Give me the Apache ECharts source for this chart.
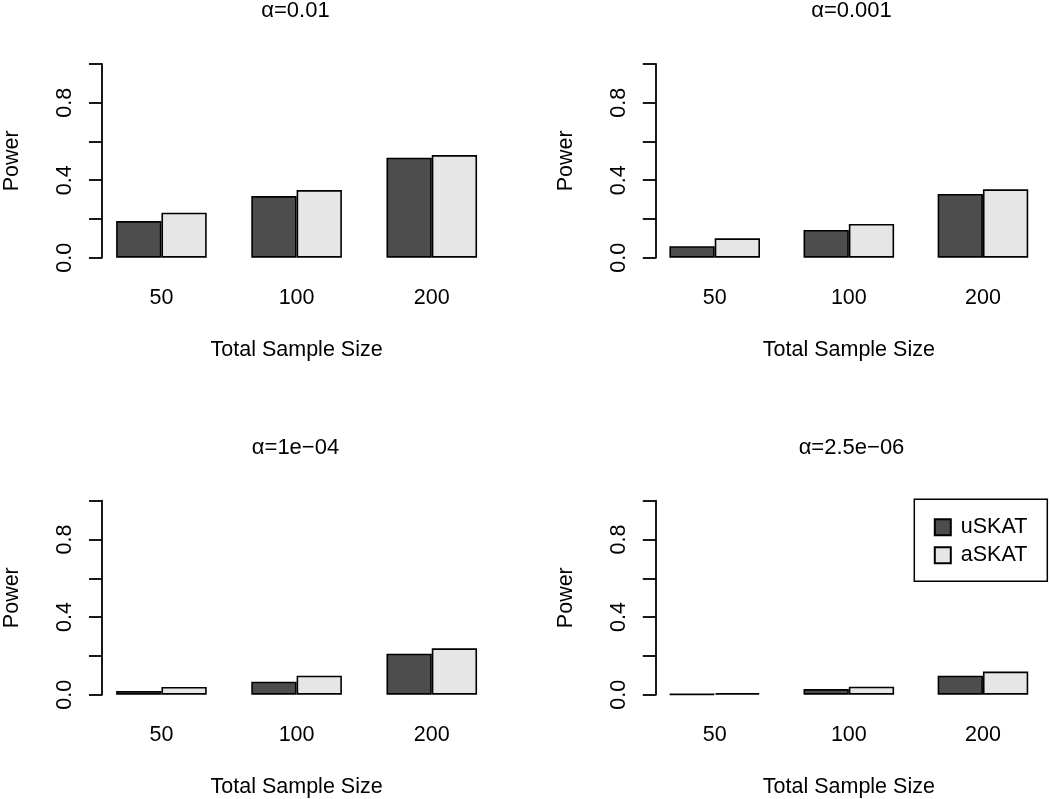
<!DOCTYPE html>
<html>
<head>
<meta charset="utf-8">
<script src="https://cdn.jsdelivr.net/npm/echarts@6/dist/echarts.min.js"></script>
<style>
  html, body { margin: 0; padding: 0; background: #fff; }
  #chart { width: 1050px; height: 799px; }
</style>
</head>
<body>
<div id="chart"></div>
<script>
const categories = ['50', '100', '200'];
const seriesNames = ['uSKAT', 'aSKAT'];
const panelTitles = ['\u03b1=0.01', '\u03b1=0.001', '\u03b1=1e\u221204', '\u03b1=2.5e\u221206'];
const uSKAT_a01 = [0.189, 0.318, 0.516];
const aSKAT_a01 = [0.232, 0.349, 0.530];
const uSKAT_a001 = [0.059, 0.143, 0.329];
const aSKAT_a001 = [0.100, 0.174, 0.353];
const uSKAT_a1e4 = [0.019, 0.067, 0.211];
const aSKAT_a1e4 = [0.040, 0.098, 0.239];
const uSKAT_a25e6 = [0.003, 0.029, 0.098];
const aSKAT_a25e6 = [0.008, 0.041, 0.119];
const yTickValues = [0, 0.2, 0.4, 0.6, 0.8, 1.0];
const yTickLabels = ['0.0', '', '0.4', '', '0.8', ''];
const xAxisTitle = 'Total Sample Size';
const yAxisTitle = 'Power';

const panelData = [
  [uSKAT_a01, aSKAT_a01],
  [uSKAT_a001, aSKAT_a001],
  [uSKAT_a1e4, aSKAT_a1e4],
  [uSKAT_a25e6, aSKAT_a25e6]
];

const FONT = 'Liberation Sans, Arial, sans-serif';
const FS = 21.5;
const colors = ['#4d4d4d', '#e6e6e6'];
const unit = 45.3;
// panel layout: first bar left edge, zero-line y, axis height
const layout = [
  { barLeft: 114.3, zeroY: 257.7, h: 193.7 },
  { barLeft: 670.3, zeroY: 257.7, h: 193.7 },
  { barLeft: 114.3, zeroY: 694.7, h: 194.0 },
  { barLeft: 670.3, zeroY: 694.7, h: 194.0 }
];

const grids = [], xAxes = [], yAxes = [], series = [], titles = [];
layout.forEach((p, i) => {
  const c1 = p.barLeft + unit;
  const gridLeft = c1 - 1.5 * unit;
  const axisX = p.barLeft - 0.32 * unit;
  const top = p.zeroY - p.h;
  grids.push({ left: gridLeft, top: top, width: 9 * unit, height: p.h, containLabel: false });
  xAxes.push({
    type: 'category', gridIndex: i, data: categories,
    axisLine: { show: false }, axisTick: { show: false },
    axisLabel: { margin: 29, color: '#000', fontSize: FS, fontFamily: FONT },
    name: xAxisTitle, nameLocation: 'middle', nameGap: 81,
    nameTextStyle: { color: '#000', fontSize: FS, fontFamily: FONT }
  });
  yAxes.push({
    type: 'value', gridIndex: i, min: 0, max: 1, interval: 0.2,
    offset: -(axisX - gridLeft),
    axisLine: { show: true, lineStyle: { color: '#000', width: 1.8 } },
    axisTick: { show: true, length: 13, lineStyle: { color: '#000', width: 1.8 } },
    splitLine: { show: false },
    axisLabel: {
      rotate: 90, margin: 26, color: '#000', fontSize: FS, fontFamily: FONT,
      formatter: function (v) {
        const k = yTickValues.findIndex(t => Math.abs(t - v) < 1e-9);
        return k >= 0 ? yTickLabels[k] : '';
      }
    },
    name: yAxisTitle, nameLocation: 'middle', nameRotate: 90, nameGap: 79,
    nameTextStyle: { color: '#000', fontSize: FS, fontFamily: FONT }
  });
  panelData[i].forEach((vals, s) => {
    series.push({
      type: 'bar', name: seriesNames[s], xAxisIndex: i, yAxisIndex: i,
      data: vals, barWidth: unit, barGap: '0%',
      itemStyle: { color: colors[s], borderColor: '#000', borderWidth: 1.6 },
      emphasis: { disabled: true }, animation: false
    });
  });
  titles.push({
    text: panelTitles[i], left: axisX + 4.32 * unit, top: top - 64, textAlign: 'center',
    padding: 0,
    textStyle: { color: '#000', fontSize: 22, fontWeight: 'normal', fontFamily: FONT }
  });
});

const chart = echarts.init(document.getElementById('chart'), null, { renderer: 'canvas' });
chart.setOption({
  animation: false,
  backgroundColor: '#fff',
  title: titles,
  grid: grids,
  xAxis: xAxes,
  yAxis: yAxes,
  series: series,
  legend: {
    data: seriesNames, orient: 'vertical', left: 914.3, top: 499.3,
    borderColor: '#000', borderWidth: 1.5, borderRadius: 0,
    padding: [17, 20, 15, 19.5], itemGap: 6, itemWidth: 16, itemHeight: 16,
    icon: 'rect',
    textStyle: { color: '#000', fontSize: FS, fontFamily: FONT, padding: [0, 0, 0, 5] }
  }
});
</script>
</body>
</html>
